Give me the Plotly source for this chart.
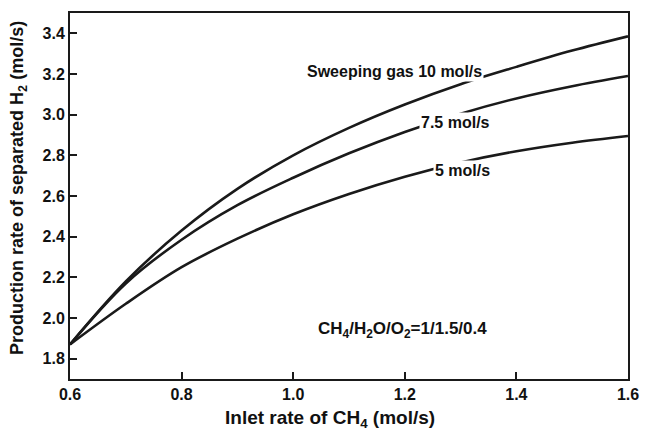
import plotly.graph_objects as go

x_inlet = [0.6, 0.7, 0.8, 0.9, 1.0, 1.1, 1.2, 1.3, 1.4, 1.5, 1.6]
h2_sweep_10 = [1.87, 2.18, 2.43, 2.635, 2.80, 2.935, 3.05, 3.15, 3.235, 3.315, 3.385]
h2_sweep_75 = [1.87, 2.17, 2.385, 2.555, 2.69, 2.81, 2.915, 3.005, 3.08, 3.14, 3.19]
h2_sweep_5 = [1.87, 2.07, 2.25, 2.39, 2.51, 2.61, 2.695, 2.765, 2.82, 2.862, 2.895]

x_ticks = [0.6, 0.8, 1.0, 1.2, 1.4, 1.6]
y_ticks = [1.8, 2.0, 2.2, 2.4, 2.6, 2.8, 3.0, 3.2, 3.4]

FONT = "Liberation Sans, Arial, sans-serif"
LINE = "#1a1a1a"
TXT = "#111111"

fig = go.Figure()
for ys in (h2_sweep_10, h2_sweep_75, h2_sweep_5):
    fig.add_trace(go.Scatter(x=x_inlet, y=ys, mode="lines",
                             line=dict(color=LINE, width=2.6, shape="spline", smoothing=1.0),
                             showlegend=False, hoverinfo="skip"))

labels = [
    ("Sweeping gas 10 mol/s", 1.342, 3.21),
    ("7.5 mol/s", 1.356, 2.963),
    ("5 mol/s", 1.356, 2.727),
]
for txt, xx, yy in labels:
    fig.add_annotation(x=xx, y=yy, text="<b>" + txt + "</b>", showarrow=False,
                       xanchor="right", yanchor="middle", bgcolor="white",
                       borderpad=1, font=dict(family=FONT, size=16, color=TXT))

fig.add_annotation(x=1.35, y=1.94,
                   text="<b>CH<sub>4</sub>/H<sub>2</sub>O/O<sub>2</sub>=1/1.5/0.4</b>",
                   showarrow=False, xanchor="right", yanchor="middle",
                   font=dict(family=FONT, size=17, color=TXT))

# axis titles placed as paper annotations
fig.add_annotation(xref="paper", yref="paper", x=0.466, y=-0.109,
                   text="<b>Inlet rate of CH<sub>4</sub> (mol/s)</b>", showarrow=False,
                   xanchor="center", yanchor="middle",
                   font=dict(family=FONT, size=19, color=TXT))
fig.add_annotation(xref="paper", yref="paper", x=-0.0914, y=0.522,
                   text="<b>Production rate of separated H<sub>2</sub> (mol/s)</b>",
                   showarrow=False, textangle=-90, xanchor="center", yanchor="middle",
                   font=dict(family=FONT, size=18, color=TXT))

axis_common = dict(showline=True, linecolor=LINE, linewidth=2, mirror=True,
                   ticks="inside", ticklen=7, tickwidth=2, tickcolor=LINE,
                   showgrid=False, zeroline=False,
                   tickfont=dict(family=FONT, size=16, color=TXT))

fig.update_xaxes(range=[0.6, 1.6], tickvals=x_ticks,
                 ticktext=[f"<b>{v:.1f}</b>" for v in x_ticks], **axis_common)
fig.update_yaxes(range=[1.7, 3.5], tickvals=y_ticks,
                 ticktext=[f"<b>{v:.1f}</b>" for v in y_ticks], **axis_common)

fig.update_layout(width=649, height=432, plot_bgcolor="white", paper_bgcolor="white",
                  margin=dict(l=70, r=10, t=13, b=53))

fig.write_html("out.html")
